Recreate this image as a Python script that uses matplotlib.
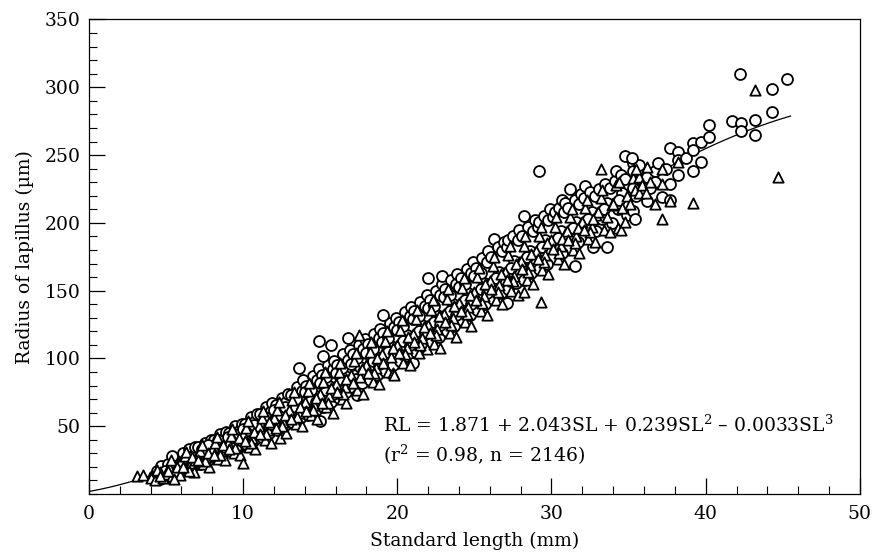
import matplotlib
matplotlib.use('Agg')
import matplotlib.pyplot as plt
import numpy as np
from matplotlib.ticker import MultipleLocator

plt.rcParams['font.family'] = 'DejaVu Serif'
plt.rcParams['mathtext.fontset'] = 'dejavuserif'

# fitted curve coefficients (as printed in the chart)
coef = [1.871, 2.043, 0.239, -0.0033]
fit_range = [0, 45.5]

# points: (standard length mm, radius um)
circles = [
    (4.2, 13), (4.4, 17), (4.6, 11), (4.8, 19), (4.5, 15), (4.9, 14), (4.7, 21),
    (5.1, 22), (5.3, 16), (5.5, 26), (5.6, 19), (5.8, 24), (5.2, 13), (5.9, 17), (5.4, 28), (5.7, 21),
    (6.1, 30), (6.3, 22), (6.5, 33), (6.6, 26), (6.8, 29), (6.2, 18), (6.9, 35), (6.4, 27), (6.7, 20),
    (7.1, 35), (7.3, 27), (7.5, 38), (7.6, 31), (7.8, 34), (7.2, 22), (7.9, 40), (7.4, 30), (7.7, 25),
    (8.1, 40), (8.3, 31), (8.5, 44), (8.6, 36), (8.8, 41), (8.2, 27), (8.9, 46), (8.4, 35), (8.7, 30),
    (9.1, 45), (9.3, 37), (9.5, 50), (9.6, 41), (9.8, 47), (9.2, 32), (9.9, 52), (9.4, 40), (9.7, 35),
    (10.1, 52), (10.3, 42), (10.5, 57), (10.6, 47), (10.8, 54), (10.2, 37), (10.9, 59), (10.4, 46), (10.7, 40),
    (11.1, 59), (11.3, 47), (11.5, 64), (11.6, 53), (11.8, 61), (11.2, 42), (11.9, 67), (11.4, 52), (11.7, 45),
    (12.1, 66), (12.3, 53), (12.5, 71), (12.6, 59), (12.8, 68), (12.2, 47), (12.9, 74), (12.4, 58), (12.7, 51),
    (13.1, 73), (13.3, 59), (13.5, 79), (13.6, 66), (13.8, 76), (13.2, 53), (13.9, 84), (13.4, 64), (13.7, 56), (13.6, 93),
    (14.1, 80), (14.3, 65), (14.5, 87), (14.6, 73), (14.8, 84), (14.2, 58), (14.9, 92), (14.4, 70), (14.7, 62), (14.9, 113),
    (15.1, 88), (15.3, 72), (15.5, 95), (15.6, 80), (15.8, 92), (15.2, 64), (15.9, 98), (15.4, 77), (15.7, 68),
    (15.7, 110), (15.0, 54), (15.2, 102),
    (16.1, 95), (16.3, 78), (16.5, 103), (16.6, 87), (16.8, 99), (16.2, 71), (16.9, 106), (16.4, 84), (16.7, 75), (16.8, 115),
    (17.1, 103), (17.3, 85), (17.5, 110), (17.6, 94), (17.8, 107), (17.2, 78), (17.9, 114), (17.4, 73), (17.7, 82),
    (18.1, 111), (18.3, 92), (18.5, 118), (18.6, 101), (18.8, 115), (18.2, 84), (18.9, 122), (18.4, 98), (18.7, 88),
    (19.1, 119), (19.3, 99), (19.5, 126), (19.6, 109), (19.8, 123), (19.2, 91), (19.9, 130), (19.1, 132), (19.4, 105), (19.7, 95),
    (20.1, 127), (20.3, 106), (20.5, 134), (20.6, 117), (20.8, 131), (20.2, 98), (20.9, 138), (20.4, 113), (20.7, 102),
    (21.1, 135), (21.3, 113), (21.5, 142), (21.6, 125), (21.8, 139), (21.2, 105), (21.0, 97), (21.9, 147), (21.4, 120), (21.7, 109),
    (22.1, 143), (22.3, 120), (22.5, 150), (22.6, 132), (22.8, 147), (22.2, 112), (22.9, 155), (22.0, 159), (22.9, 161),
    (22.4, 127), (22.7, 116),
    (23.1, 151), (23.3, 128), (23.5, 158), (23.6, 140), (23.8, 155), (23.2, 120), (23.9, 162), (23.4, 135), (23.7, 124),
    (24.1, 159), (24.3, 136), (24.5, 166), (24.6, 148), (24.8, 163), (24.2, 128), (24.9, 171), (24.4, 143), (24.7, 132),
    (25.1, 167), (25.3, 144), (25.5, 174), (25.6, 156), (25.8, 171), (25.2, 136), (25.9, 179), (25.4, 151), (25.7, 140),
    (26.1, 175), (26.3, 188), (26.5, 182), (26.6, 164), (26.8, 179), (26.2, 144), (26.9, 186), (26.4, 159), (26.7, 148),
    (27.1, 182), (27.2, 187), (27.3, 159), (27.5, 190), (27.6, 172), (27.8, 187), (27.2, 151), (27.1, 141), (27.9, 195),
    (27.4, 167), (27.7, 156),
    (28.1, 190), (28.2, 205), (28.3, 166), (28.5, 197), (28.6, 179), (28.8, 194), (28.2, 158), (28.9, 202), (28.4, 175), (28.7, 163),
    (29.1, 197), (29.2, 238), (29.2, 201), (29.3, 174), (29.5, 205), (29.6, 187), (29.8, 202), (29.2, 166), (29.9, 210),
    (29.4, 182), (29.7, 170),
    (30.1, 204), (30.2, 208), (30.3, 181), (30.5, 211), (30.6, 194), (30.8, 208), (30.7, 217), (30.9, 215), (30.4, 189), (30.7, 178),
    (31.1, 211), (31.2, 225), (31.3, 188), (31.5, 168), (31.5, 217), (31.6, 201), (31.8, 214), (31.9, 221), (31.4, 196), (31.7, 186),
    (32.1, 218), (32.2, 227), (32.3, 196), (32.5, 223), (32.6, 208), (32.7, 182), (32.8, 220), (32.4, 203), (32.9, 194),
    (33.1, 225), (33.3, 203), (33.5, 229), (33.6, 182), (33.6, 215), (33.8, 226), (33.4, 210), (33.9, 200),
    (34.1, 231), (34.2, 238), (34.3, 210), (34.5, 235), (34.6, 222), (34.8, 249), (34.8, 232), (34.4, 217), (34.9, 206),
    (35.3, 244), (35.3, 238), (35.7, 243), (35.3, 209), (35.4, 203), (35.3, 226), (35.5, 220), (35.8, 232), (35.2, 248),
    (36.2, 234), (36.7, 238), (36.7, 230), (36.2, 216), (36.4, 226), (36.9, 244),
    (37.2, 219), (37.7, 217), (37.7, 229), (37.7, 255), (37.4, 240),
    (38.2, 252), (38.2, 246), (38.2, 235), (38.7, 248), (39.2, 259), (39.2, 254), (39.2, 238), (39.7, 260), (39.7, 245),
    (40.2, 272), (40.2, 263), (41.7, 275), (42.3, 274), (42.3, 268), (43.2, 276), (43.2, 265),
    (42.2, 310), (44.3, 299), (45.3, 306), (44.3, 282),
    # second pass over the dense part of the band
    (4.5, 12), (4.9, 17), (5.4, 18), (5.8, 15), (6.2, 25), (6.6, 21), (7.0, 24), (7.3, 33), (7.7, 36),
    (8.0, 29), (8.4, 40), (8.7, 34), (9.0, 42), (9.4, 34), (9.7, 44), (10.0, 48), (10.4, 39), (10.7, 51),
    (11.0, 45), (11.4, 57), (11.7, 50), (12.0, 62), (12.4, 50), (12.7, 64), (13.0, 57), (13.4, 70),
    (13.8, 62), (14.0, 75), (14.4, 77), (14.7, 68), (15.0, 82), (15.4, 86), (15.8, 74), (16.0, 89),
    (16.4, 93), (16.8, 82), (17.0, 96), (17.4, 100), (17.8, 90), (18.0, 104), (18.4, 107), (18.8, 96),
    (19.0, 112), (19.4, 115), (19.8, 104), (20.0, 121), (20.4, 124), (20.8, 110), (21.0, 129), (21.4, 131),
    (21.8, 118), (22.0, 137), (22.4, 139), (22.8, 125), (23.0, 145), (23.4, 147), (23.8, 132), (24.0, 153),
    (24.4, 155), (24.8, 140), (25.0, 161), (25.4, 163), (25.8, 148),
]

triangles = [
    (3.1, 13), (3.5, 14), (4.0, 12), (4.3, 10), (4.6, 16), (4.8, 12), (4.4, 18),
    (5.0, 15), (5.2, 20), (5.4, 13), (5.6, 17), (5.8, 23), (5.3, 25), (5.9, 14), (5.5, 11),
    (6.0, 24), (6.2, 28), (6.4, 19), (6.6, 23), (6.8, 16), (6.3, 31), (6.9, 25), (6.5, 17),
    (7.0, 28), (7.2, 32), (7.4, 22), (7.6, 27), (7.8, 20), (7.3, 36), (7.9, 30), (7.5, 24),
    (8.0, 33), (8.2, 38), (8.4, 26), (8.6, 31), (8.8, 25), (8.3, 42), (8.9, 35), (8.5, 29),
    (9.0, 38), (9.2, 43), (9.4, 30), (9.6, 36), (9.8, 29), (9.3, 48), (9.9, 40), (9.5, 34), (10.0, 23),
    (10.0, 44), (10.2, 49), (10.4, 35), (10.6, 41), (10.8, 33), (10.3, 54), (10.9, 46), (10.5, 38),
    (11.0, 50), (11.2, 56), (11.4, 40), (11.6, 47), (11.8, 38), (11.3, 61), (11.9, 52), (11.5, 44),
    (12.0, 56), (12.2, 62), (12.4, 41), (12.6, 53), (12.8, 45), (12.3, 68), (12.9, 59), (12.5, 50),
    (13.0, 62), (13.2, 69), (13.4, 52), (13.6, 60), (13.8, 50), (13.3, 75), (13.9, 66), (13.5, 57),
    (14.0, 68), (14.2, 76), (14.4, 58), (14.6, 66), (14.8, 55), (14.3, 82), (14.9, 72), (14.5, 62),
    (15.0, 74), (15.2, 83), (15.4, 64), (15.6, 72), (15.8, 60), (15.3, 90), (15.9, 79), (15.5, 67),
    (16.0, 81), (16.2, 90), (16.4, 70), (16.6, 79), (16.7, 67), (16.3, 97), (16.9, 86), (16.5, 74),
    (17.0, 88), (17.2, 98), (17.4, 77), (17.5, 117), (17.6, 86), (17.8, 74), (17.3, 104), (17.9, 93),
    (18.0, 95), (18.2, 105), (18.4, 83), (18.6, 93), (18.8, 81), (18.3, 112), (18.9, 100), (18.5, 89),
    (19.0, 103), (19.2, 113), (19.4, 90), (19.7, 89), (19.6, 101), (19.8, 88), (19.3, 120), (19.9, 108),
    (20.0, 110), (20.2, 121), (20.4, 97), (20.6, 108), (20.8, 95), (20.3, 128), (20.9, 116), (20.5, 103),
    (21.0, 118), (21.2, 129), (21.4, 104), (21.6, 115), (21.9, 107), (21.3, 136), (21.8, 124), (21.5, 110),
    (22.0, 125), (22.2, 136), (22.4, 111), (22.6, 122), (22.8, 108), (22.3, 143), (22.9, 131), (22.5, 117),
    (23.0, 133), (23.2, 144), (23.4, 119), (23.6, 130), (23.8, 116), (23.3, 151), (23.9, 139), (23.5, 125),
    (24.0, 141), (24.2, 152), (24.4, 127), (24.6, 138), (24.8, 124), (24.3, 159), (24.9, 147), (24.5, 133),
    (25.0, 149), (25.2, 160), (25.4, 135), (25.6, 146), (25.8, 132), (25.3, 167), (25.9, 155), (25.5, 141),
    (26.0, 157), (26.2, 168), (26.4, 143), (26.6, 154), (26.8, 140), (26.3, 175), (26.9, 163), (26.5, 149),
    (27.0, 164), (27.2, 176), (27.4, 150), (27.6, 161), (27.8, 147), (27.3, 183), (27.9, 171), (27.5, 157),
    (28.0, 172), (28.2, 183), (28.2, 149), (28.4, 158), (28.6, 169), (28.8, 155), (28.3, 190), (28.9, 178), (28.5, 164),
    (29.0, 179), (29.2, 190), (29.3, 142), (29.4, 165), (29.6, 176), (29.8, 162), (29.3, 197), (29.9, 186), (29.5, 171),
    (30.0, 187), (30.2, 197), (30.4, 173), (30.6, 183), (30.8, 170), (30.3, 204), (30.9, 192), (30.5, 178),
    (31.0, 194), (31.2, 204), (31.4, 180), (31.6, 190), (31.8, 178), (31.3, 210), (31.9, 200), (31.5, 185),
    (32.0, 201), (32.2, 211), (32.4, 188), (32.6, 197), (32.8, 186), (32.3, 217), (32.9, 206), (32.5, 193),
    (33.0, 208), (33.2, 240), (33.2, 218), (33.4, 195), (33.6, 204), (33.8, 193), (33.3, 224), (33.9, 213),
    (34.0, 214), (34.2, 228), (34.3, 196), (34.5, 195), (34.6, 211), (34.8, 201), (34.4, 230), (34.9, 220),
    (35.3, 233), (35.7, 234), (35.4, 224), (35.7, 222), (35.1, 214), (35.5, 240), (35.9, 228),
    (36.2, 241), (36.7, 214), (36.4, 230), (36.1, 222),
    (37.2, 240), (37.2, 229), (37.2, 203), (37.7, 216),
    (38.2, 245), (39.2, 215), (43.2, 298), (44.7, 234),
    # second pass over the dense part of the band
    (4.6, 13), (5.1, 17), (5.7, 20), (6.1, 20), (6.7, 27), (7.1, 25), (7.7, 30), (8.1, 29), (8.7, 36),
    (9.1, 33), (9.7, 41), (10.1, 39), (10.7, 46), (11.1, 44), (11.7, 53), (12.1, 49), (12.7, 58),
    (13.1, 55), (13.7, 64), (14.1, 61), (14.7, 71), (15.1, 67), (15.7, 78), (16.1, 75), (16.7, 85),
    (17.1, 82), (17.7, 92), (18.1, 89), (18.7, 100), (19.1, 97), (19.7, 108), (20.1, 104), (20.7, 116),
    (21.1, 112), (21.7, 123), (22.1, 119), (22.7, 131), (23.1, 127), (23.7, 139), (24.1, 135), (24.7, 147),
    (25.1, 143), (25.7, 155), (26.1, 151), (26.7, 162), (27.1, 158), (27.7, 170), (28.1, 166), (28.7, 177),
    (29.1, 173), (29.7, 185), (30.1, 181), (30.7, 188), (31.1, 187), (31.7, 196), (32.1, 195), (32.7, 203),
]

cx, cy = np.array(circles).T
tx, ty = np.array(triangles).T

fig = plt.figure(figsize=(8.74, 5.52), dpi=100)
ax = fig.add_axes([0.1018, 0.105, 0.882, 0.8597])

sl = np.linspace(fit_range[0], fit_range[1], 200)
rl = coef[0] + coef[1] * sl + coef[2] * sl**2 + coef[3] * sl**3
ax.plot(sl, rl, color='black', lw=0.9, zorder=1)

ax.scatter(cx, cy, s=62, marker='o', facecolors='white', edgecolors='black', linewidths=1.3, zorder=2)
ax.scatter(tx, ty, s=55, marker='^', facecolors='white', edgecolors='black', linewidths=1.3, zorder=2)

ax.set_xlim(0, 50)
ax.set_ylim(0, 350)
ax.xaxis.set_major_locator(MultipleLocator(10))
ax.xaxis.set_minor_locator(MultipleLocator(2))
ax.set_yticks([50, 100, 150, 200, 250, 300, 350])
ax.yaxis.set_minor_locator(MultipleLocator(10))
ax.tick_params(which='major', direction='in', length=11.5, width=0.9, labelsize=13.5, pad=8)
ax.tick_params(which='minor', direction='in', length=6, width=0.8)
ax.tick_params(axis='y', which='major', pad=6)
for sp in ax.spines.values():
    sp.set_linewidth(0.9)

ax.set_xlabel('Standard length (mm)', fontsize=13.5, labelpad=6)
ax.set_ylabel('Radius of lapillus (\u00b5m)', fontsize=13.5, labelpad=8)

ax.text(19.1, 51, 'RL = 1.871 + 2.043SL + 0.239SL$^2$ \u2013 0.0033SL$^3$', fontsize=13.5, va='center', ha='left')
ax.text(19.1, 29, '(r$^2$ = 0.98, n = 2146)', fontsize=13.5, va='center', ha='left')

fig.savefig('out.png', dpi=100)
